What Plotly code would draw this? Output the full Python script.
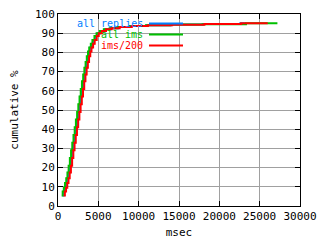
import plotly.graph_objects as go

# ---- data (msec, cumulative %) ----
replies_x = [550, 700, 850, 1000, 1150, 1300, 1450, 1600, 1750, 1900, 2050, 2200, 2350, 2500,
             2650, 2800, 2950, 3100, 3250, 3400, 3550, 3700, 3850, 4000, 4200, 4400, 4650, 4900,
             5300, 5800, 6500, 7500, 9000, 11000, 14000, 18000, 22600, 23200]
replies_y = [5.5, 7.5, 9.5, 12, 14.5, 17.5, 21, 25, 29, 33, 37, 41, 45, 49,
             53, 57, 61, 65, 68.5, 72, 75, 78, 80.5, 82.5, 84.5, 86.5, 88.5, 90,
             91.2, 92, 92.6, 93.2, 93.8, 94.2, 94.5, 94.8, 95.2, 95.2]

ims_x = [450, 580, 720, 870, 1020, 1170, 1320, 1470, 1620, 1770, 1920, 2070, 2220, 2370,
         2520, 2670, 2820, 2970, 3120, 3270, 3420, 3570, 3720, 3870, 4070, 4270, 4520, 4780,
         5180, 5680, 6400, 7400, 8900, 10900, 13900, 17900, 23300, 27200]
ims_y = [5.5, 7.5, 9.5, 12, 14.5, 17.5, 21, 25, 29, 33, 37, 41, 45, 49,
         53, 57, 61, 65, 68.5, 72, 75, 78, 80.5, 82.5, 84.5, 86.5, 88.5, 90,
         91.2, 92, 92.6, 93.2, 93.8, 94.2, 94.5, 94.7, 95.2, 95.2]

ims200_x = [700, 850, 1000, 1150, 1300, 1450, 1600, 1750, 1900, 2050, 2200, 2350, 2500, 2650,
            2800, 2950, 3100, 3250, 3400, 3550, 3700, 3850, 4000, 4150, 4350, 4550, 4800, 5050,
            5450, 5950, 6650, 7650, 9150, 11150, 14150, 18150, 22700, 26000]
ims200_y = [5.5, 7.5, 9.5, 12, 14.5, 17.5, 21, 25, 29, 33, 37, 41, 45, 49,
            53, 57, 61, 65, 68.5, 72, 75, 78, 80.5, 82.5, 84.5, 86.5, 88.5, 90,
            91.2, 92, 92.6, 93.2, 93.7, 94.1, 94.4, 94.8, 95.2, 95.2]

series_names = ["all replies", "all ims", "ims/200"]
series_colors = ["#0080ff", "#00c000", "#ff0000"]

x_ticks = [0, 5000, 10000, 15000, 20000, 25000, 30000]
y_ticks = [0, 10, 20, 30, 40, 50, 60, 70, 80, 90, 100]

FONT = "DejaVu Sans Mono"

fig = go.Figure()
for xs, ys, name, col in zip([replies_x, ims_x, ims200_x], [replies_y, ims_y, ims200_y],
                             series_names, series_colors):
    fig.add_trace(go.Scatter(x=xs, y=ys, mode="lines", line=dict(color=col, width=2, shape="hv"),
                             name=name, showlegend=False))

# legend box (white, hides grid) and gnuplot-style key
fig.add_shape(type="rect", xref="paper", yref="paper", x0=0, x1=0.541, y0=0.807, y1=1,
              fillcolor="white", line=dict(width=0), layer="between")
key_y = [0.9505, 0.8932, 0.8359]
for name, col, ky in zip(series_names, series_colors, key_y):
    fig.add_annotation(xref="paper", yref="paper", x=0.355, y=ky, text=name, showarrow=False,
                       xanchor="right", yanchor="middle", borderpad=0,
                       font=dict(family=FONT, size=10, color=col))
    fig.add_shape(type="line", xref="paper", yref="paper", x0=0.376, x1=0.5165, y0=ky, y1=ky,
                  line=dict(color=col, width=2))

axis_common = dict(showline=True, linecolor="black", linewidth=1, mirror="ticks",
                   ticks="inside", ticklen=5, tickcolor="black", gridcolor="#a0a0a0",
                   gridwidth=1, zeroline=False, tickfont=dict(family=FONT, size=11, color="black"))

fig.update_xaxes(range=[0, 30000], tickvals=x_ticks, ticktext=[str(v) for v in x_ticks],
                 title=dict(text="msec", font=dict(family=FONT, size=11, color="black"), standoff=6),
                 **axis_common)
fig.update_yaxes(range=[0, 100], tickvals=y_ticks, ticktext=[str(v) for v in y_ticks],
                 title=dict(text="cumulative %", font=dict(family=FONT, size=11, color="black"), standoff=14),
                 **axis_common)

fig.update_layout(width=320, height=240, margin=dict(l=58, r=20, t=14, b=34, autoexpand=False),
                  paper_bgcolor="white", plot_bgcolor="white", showlegend=False)

fig.write_html("out.html")
